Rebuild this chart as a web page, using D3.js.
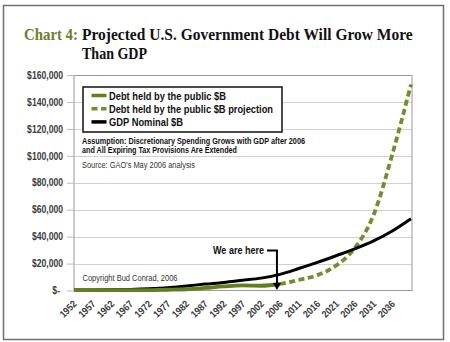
<!DOCTYPE html>
<html>
<head>
<meta charset="utf-8">
<script src="https://cdn.jsdelivr.net/npm/d3@7"></script>
<style>
  html, body { margin: 0; padding: 0; background: #fff; }
  svg { display: block; }
</style>
</head>
<body>
<svg id="chart" width="450" height="342"></svg>
<script>
// ---- data ($ billions) ----
const categories = ["1952","1957","1962","1967","1972","1977","1982","1987","1992","1997","2002","2006","2011","2016","2021","2026","2031","2036","2041"];
const tickLabels = categories.slice(0, 18);
const gdpNominal = [360, 460, 590, 830, 1280, 2030, 3340, 4740, 6000, 7600, 9200, 12000, 16300, 20900, 25800, 30900, 36800, 44200, 53300];
const debtPublic = [215, 225, 250, 270, 320, 550, 920, 1890, 3000, 3770, 3540, 4830, null, null, null, null, null, null, null];
const debtProjection = [null, null, null, null, null, null, null, null, null, null, null, 4830, 7800, 11400, 18500, 31600, 56000, 101000, 153000];
const yTicks = [0, 20000, 40000, 60000, 80000, 100000, 120000, 140000, 160000];
const seriesNames = ["Debt held by the public $B", "Debt held by the public $B projection", "GDP Nominal $B"];

const svg = d3.select("#chart");
const plot = { left: 74, right: 412, top: 75, bottom: 290.5 };
const GREEN = "#617f1e", GREEN_DASH = "#6f8f2a", TEXT = "#3a3a3a";
const SANS = "'Liberation Sans', Arial, sans-serif";

// squeeze text horizontally to imitate a narrow face
function condense(sel, f) {
  sel.each(function () {
    const w = this.getComputedTextLength();
    d3.select(this).attr("textLength", w * f).attr("lengthAdjust", "spacingAndGlyphs");
  });
}
function fit(sel, w) { sel.attr("textLength", w).attr("lengthAdjust", "spacingAndGlyphs"); }
// place a text at (x, y) scaled horizontally so that it spans width w
function scaledText(parent, x, y, w, str, color) {
  const g = parent.append("g");
  const t = g.append("text").attr("x", 0).attr("y", 0).attr("fill", color).text(str);
  const nat = t.node().getComputedTextLength();
  g.attr("transform", `translate(${x},${y}) scale(${w / nat},1)`);
  return t;
}

// outer frame
svg.append("rect").attr("x", 3.5).attr("y", 5.5).attr("width", 440).attr("height", 334)
  .attr("fill", "#fff").attr("stroke", "#707070").attr("stroke-width", 1.5);

// title
const title = svg.append("g").attr("font-family", "'Liberation Serif', 'DejaVu Serif', serif").attr("font-weight", "bold").attr("font-size", 17.5);
scaledText(title, 24, 40, 54, "Chart 4:", "#6f7d2c");
scaledText(title, 82, 40, 331, "Projected U.S. Government Debt Will Grow More", "#111");
scaledText(title, 82, 59, 65, "Than GDP", "#111");

// scales
const x = d3.scalePoint().domain(categories).range([plot.left, plot.right - 1]);
const y = d3.scaleLinear().domain([0, 160000]).range([plot.bottom, plot.top]);

// gridlines
svg.append("g").selectAll("line").data(yTicks.slice(1)).join("line")
  .attr("x1", plot.left).attr("x2", plot.right)
  .attr("y1", d => Math.round(y(d)) + 0.5).attr("y2", d => Math.round(y(d)) + 0.5)
  .attr("stroke", "#d2d2d2").attr("stroke-width", 1);

// plot border
svg.append("rect").attr("x", plot.left).attr("y", plot.top + 0.5)
  .attr("width", plot.right - plot.left).attr("height", plot.bottom - plot.top - 0.5)
  .attr("fill", "none").attr("stroke", "#9a9a9a").attr("stroke-width", 1);

// y axis
const yAxis = svg.append("g")
  .attr("transform", `translate(${plot.left},0)`)
  .call(d3.axisLeft(y).tickValues(yTicks).tickSize(7).tickPadding(4)
    .tickFormat(d => d === 0 ? "$-" : "$" + d3.format(",")(d)));
yAxis.select(".domain").remove();
yAxis.selectAll(".tick line").attr("stroke", "#bbb");
yAxis.selectAll(".tick text").attr("font-size", 10).attr("font-weight", "bold").attr("fill", TEXT)
  .attr("font-family", SANS);
yAxis.selectAll(".tick text").filter(d => d === 0).attr("x", -14);
condense(yAxis.selectAll(".tick text"), 0.86);

// x axis labels
const xAxis = svg.append("g").attr("transform", `translate(0,${plot.bottom})`)
  .call(d3.axisBottom(x).tickValues(tickLabels).tickSize(0));
xAxis.select(".domain").remove();
xAxis.selectAll(".tick text")
  .attr("font-family", SANS)
  .attr("font-size", 10).attr("font-weight", "bold").attr("fill", TEXT)
  .attr("text-anchor", "end").attr("dy", 0).attr("y", 0)
  .attr("transform", "translate(3,14) rotate(-45)");
condense(xAxis.selectAll(".tick text"), 0.88);

// lines
const line = d3.line().defined(d => d[1] != null)
  .x(d => x(d[0])).y(d => y(d[1])).curve(d3.curveMonotoneX);
const zip = vals => categories.map((c, i) => [c, vals[i]]);

svg.append("path").datum(zip(debtProjection)).attr("d", line)
  .attr("fill", "none").attr("stroke", GREEN_DASH).attr("stroke-width", 3.8)
  .attr("stroke-dasharray", "6,3.5");
svg.append("path").datum(zip(gdpNominal)).attr("d", line)
  .attr("fill", "none").attr("stroke", "#000").attr("stroke-width", 3);
svg.append("path").datum(zip(debtPublic)).attr("d", line)
  .attr("fill", "none").attr("stroke", GREEN).attr("stroke-width", 3.8);

// legend
const lg = svg.append("g").attr("font-family", SANS);
lg.append("rect").attr("x", 83).attr("y", 87).attr("width", 199).attr("height", 45)
  .attr("fill", "#fff").attr("stroke", "#111").attr("stroke-width", 1.5);
const swatches = [
  { color: GREEN, dash: null, w: 117 },
  { color: GREEN_DASH, dash: "6,3.5", w: 164 },
  { color: "#000", dash: null, w: 74 }
];
seriesNames.forEach((name, i) => {
  const cy = 95.5 + i * 13.2;
  lg.append("line").attr("x1", 91.5).attr("x2", 106.5).attr("y1", cy).attr("y2", cy)
    .attr("stroke", swatches[i].color).attr("stroke-width", 3.5)
    .attr("stroke-dasharray", swatches[i].dash);
  fit(lg.append("text").attr("x", 109).attr("y", cy + 4).attr("font-size", 11.5)
    .attr("font-weight", "bold").attr("fill", "#111").text(name), swatches[i].w);
});

// annotations
const ann = svg.append("g").attr("font-family", SANS).attr("fill", "#111");
fit(ann.append("text").attr("x", 82).attr("y", 144).attr("font-size", 8.5).attr("font-weight", "bold")
  .text("Assumption: Discretionary Spending Grows with GDP after 2006"), 223);
fit(ann.append("text").attr("x", 82).attr("y", 152.5).attr("font-size", 8.5).attr("font-weight", "bold")
  .text("and All Expiring Tax Provisions Are Extended"), 155);
fit(ann.append("text").attr("x", 82).attr("y", 168).attr("font-size", 8.5).attr("fill", "#333")
  .text("Source: GAO's May 2006 analysis"), 113);
fit(ann.append("text").attr("x", 82.5).attr("y", 281).attr("font-size", 8.5).attr("fill", "#333")
  .text("Copyright Bud Conrad, 2006"), 95);
fit(ann.append("text").attr("x", 213).attr("y", 254).attr("font-size", 11).attr("font-weight", "bold")
  .text("We are here"), 51);

// arrow
const ax = x("2006") - 3;
svg.append("path").attr("d", `M${ax - 10},250.5 H${ax} V284`)
  .attr("fill", "none").attr("stroke", "#000").attr("stroke-width", 2);
svg.append("path").attr("d", `M${ax - 4},283 L${ax + 4},283 L${ax},290 Z`).attr("fill", "#000");
</script>
</body>
</html>
